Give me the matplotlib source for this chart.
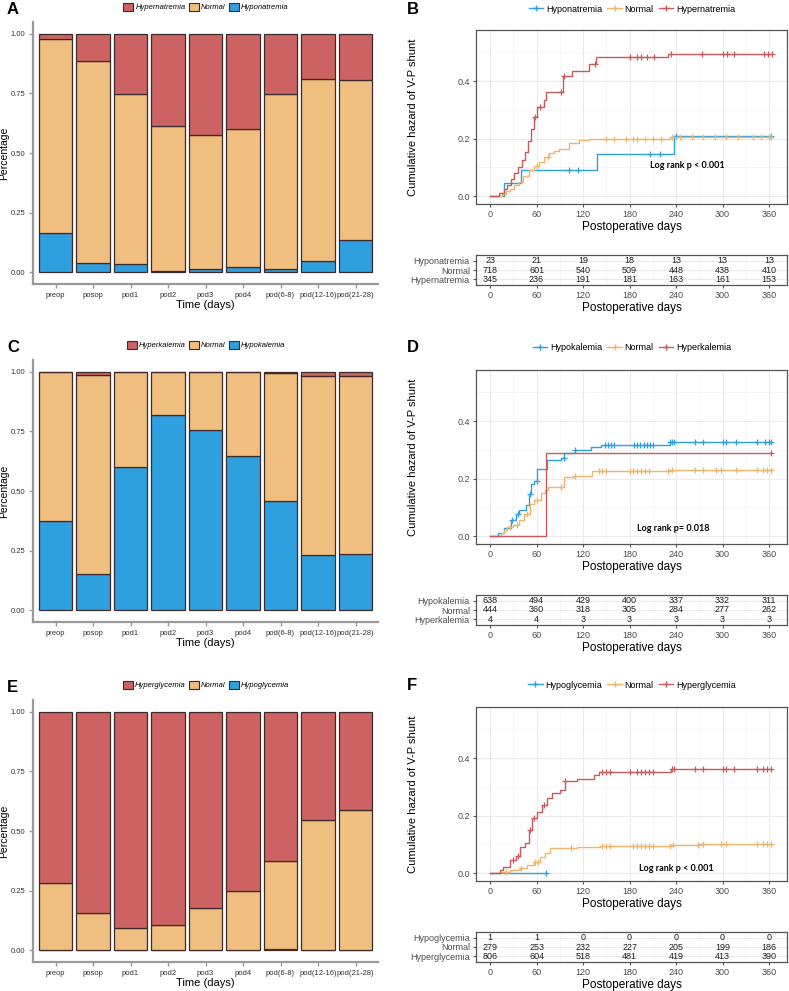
import numpy as np
import matplotlib
matplotlib.use("Agg")
import matplotlib.pyplot as plt
from matplotlib.patches import Patch
from matplotlib.lines import Line2D

plt.rcParams['font.family'] = ['Liberation Sans', 'DejaVu Sans']

# ---------------- bar chart data (fractions) ----------------
periods = ["preop", "posop", "pod1", "pod2", "pod3", "pod4",
           "pod(6-8)", "pod(12-16)", "pod(21-28)"]

na_hypo = [0.166, 0.038, 0.032, 0.005, 0.012, 0.020, 0.012, 0.048, 0.134]
na_normal = [0.812, 0.847, 0.714, 0.608, 0.563, 0.580, 0.734, 0.761, 0.671]
na_hyper = [0.022, 0.115, 0.254, 0.387, 0.425, 0.400, 0.254, 0.191, 0.195]

k_hypo = [0.374, 0.151, 0.600, 0.820, 0.757, 0.647, 0.458, 0.231, 0.235]
k_normal = [0.626, 0.835, 0.400, 0.180, 0.243, 0.353, 0.537, 0.752, 0.748]
k_hyper = [0.000, 0.014, 0.000, 0.000, 0.000, 0.000, 0.005, 0.017, 0.017]

glu_hypo = [0.000, 0.000, 0.000, 0.000, 0.000, 0.000, 0.004, 0.000, 0.000]
glu_normal = [0.282, 0.155, 0.092, 0.105, 0.177, 0.248, 0.370, 0.546, 0.590]
glu_hyper = [0.718, 0.845, 0.908, 0.895, 0.823, 0.752, 0.626, 0.454, 0.410]

# ---------------- cumulative hazard data ----------------
# (step times, hazard after step, censor times)
na_hypo_t = [0, 18, 40, 138, 238]
na_hypo_h = [0, 0.045, 0.09, 0.145, 0.21]
na_hypo_c = [102, 113, 206, 219, 240, 362]

na_norm_t = [0, 15, 20, 25, 31, 37, 43, 50, 56, 63, 70, 76, 83, 89, 102, 115, 128, 232]
na_norm_h = [0, 0.008, 0.016, 0.025, 0.038, 0.05, 0.07, 0.09, 0.105, 0.12, 0.135,
             0.15, 0.158, 0.165, 0.185, 0.195, 0.2, 0.205]
na_norm_c = [60, 75, 150, 160, 175, 185, 190, 200, 210, 220, 235, 245, 260, 275,
             290, 305, 320, 340, 350, 360, 363]

na_hyper_t = [0, 12, 18, 22, 27, 31, 36, 41, 45, 49, 53, 57, 61, 70, 72, 94, 106,
              128, 137, 230]
na_hyper_h = [0, 0.01, 0.025, 0.04, 0.06, 0.08, 0.1, 0.125, 0.155, 0.19, 0.235,
              0.276, 0.31, 0.334, 0.363, 0.417, 0.436, 0.46, 0.482, 0.494]
na_hyper_c = [58, 65, 91, 96, 136, 180, 190, 195, 202, 212, 234, 273, 300, 306,
              315, 353, 359, 364]

k_hypo_t = [0, 10, 18, 27, 33, 37, 46, 50, 53, 57, 61, 73, 92, 96, 109, 130, 143, 232]
k_hypo_h = [0, 0.01, 0.027, 0.055, 0.078, 0.09, 0.107, 0.148, 0.182, 0.193, 0.233,
            0.265, 0.273, 0.29, 0.299, 0.31, 0.317, 0.328]
k_hypo_c = [28, 36, 52, 60, 95, 110, 148, 152, 156, 160, 186, 190, 194, 198, 202,
            206, 210, 232, 235, 238, 265, 275, 300, 305, 318, 345, 355, 360, 363]

k_norm_t = [0, 14, 18, 22, 30, 37, 44, 51, 56, 66, 71, 75, 96, 109, 132, 232]
k_norm_h = [0, 0.01, 0.02, 0.03, 0.04, 0.055, 0.078, 0.11, 0.125, 0.15, 0.16, 0.172,
            0.205, 0.21, 0.225, 0.23]
k_norm_c = [25, 35, 48, 60, 92, 110, 140, 145, 150, 180, 185, 190, 195, 200, 205,
            230, 235, 265, 275, 292, 298, 318, 345, 352, 358, 363]

k_hyper_t = [0, 72]
k_hyper_h = [0, 0.288]
k_hyper_c = [363]

glu_hypo_t = [0]
glu_hypo_h = [0]
glu_hypo_c = [72]

glu_norm_t = [0, 13, 26, 39, 47, 56, 65, 71, 77, 112, 142, 233, 270]
glu_norm_h = [0, 0.003, 0.012, 0.017, 0.028, 0.04, 0.057, 0.07, 0.087, 0.091,
              0.094, 0.097, 0.1]
glu_norm_c = [20, 40, 58, 62, 105, 145, 150, 155, 185, 190, 195, 200, 205, 210,
              232, 236, 268, 275, 298, 305, 345, 352, 358, 363]

glu_hyper_t = [0, 13, 17, 26, 33, 39, 45, 50, 54, 61, 67, 74, 80, 90, 97, 112, 134,
               140, 233]
glu_hyper_h = [0, 0.01, 0.02, 0.044, 0.058, 0.091, 0.103, 0.149, 0.19, 0.213, 0.238,
               0.26, 0.277, 0.289, 0.32, 0.328, 0.342, 0.353, 0.362]
glu_hyper_c = [30, 36, 52, 57, 70, 97, 145, 150, 155, 180, 190, 195, 200, 205, 210,
               235, 238, 265, 275, 300, 305, 315, 345, 352, 358, 363]

# ---------------- numbers at risk ----------------
risk_times = [0, 60, 120, 180, 240, 300, 360]
na_risk = {"Hyponatremia": [23, 21, 19, 18, 13, 13, 13],
           "Normal": [718, 601, 540, 509, 448, 438, 410],
           "Hypernatremia": [345, 236, 191, 181, 163, 161, 153]}
k_risk = {"Hypokalemia": [638, 494, 429, 400, 337, 332, 311],
          "Normal": [444, 360, 318, 305, 284, 277, 262],
          "Hyperkalemia": [4, 4, 3, 3, 3, 3, 3]}
glu_risk = {"Hypoglycemia": [1, 1, 0, 0, 0, 0, 0],
            "Normal": [279, 253, 232, 227, 205, 199, 186],
            "Hyperglycemia": [806, 604, 518, 481, 419, 413, 390]}

RED = "#CD6262"
ORANGE = "#F0BE7E"
BLUE = "#2FA0DF"
L_RED = "#C95A5E"
L_ORANGE = "#EFB56C"
L_BLUE = "#2E9FDF"
EDGE = "#3b2b2b"
GRAYTXT = "#4d4d4d"

W, H = 789, 991
fig = plt.figure(figsize=(W / 100, H / 100), dpi=100)


def px_axes(l, t, r, b):
    return fig.add_axes([l / W, 1 - b / H, (r - l) / W, (b - t) / H])


def bar_panel(top, hypo, normal, hyper, names, letter, leg_y):
    ax = px_axes(33, top, 378, top + 262)
    x = np.arange(1, len(periods) + 1)
    hypo = np.array(hypo)
    normal = np.array(normal)
    hyper = np.array(hyper)
    kw = dict(width=0.9, edgecolor=EDGE, linewidth=0.9)
    ax.bar(x, hypo, color=BLUE, **kw)
    ax.bar(x, normal, bottom=hypo, color=ORANGE, **kw)
    ax.bar(x, hyper, bottom=hypo + normal, color=RED, **kw)
    ax.set_xlim(0.4, 9.6)
    ax.set_ylim(-0.05, 1.05)
    ax.set_xticks(x)
    ax.set_xticklabels(periods, fontsize=5.5, color="#333333")
    ax.set_yticks([0, 0.25, 0.5, 0.75, 1.0])
    ax.set_yticklabels(["0.00", "0.25", "0.50", "0.75", "1.00"], fontsize=5.5,
                       color="#333333")
    for s in ["top", "right"]:
        ax.spines[s].set_visible(False)
    for s in ["left", "bottom"]:
        ax.spines[s].set_color("#9a9a9a")
        ax.spines[s].set_linewidth(1.6)
    ax.tick_params(colors="#9a9a9a", length=3, width=1, labelcolor="#333333", pad=2.5)
    ax.set_xlabel("Time (days)", fontsize=8, labelpad=1)
    ax.set_ylabel("Percentage", fontsize=7.5, labelpad=1)
    handles = [Patch(facecolor=c, edgecolor=EDGE, linewidth=0.8) for c in (RED, ORANGE, BLUE)]
    fig.legend(handles, names, loc="center", bbox_to_anchor=(206 / W, 1 - leg_y / H),
               ncol=3, frameon=False, prop={"size": 5.5, "style": "italic"},
               handlelength=1.3, handleheight=1.3, handletextpad=0.3,
               columnspacing=0.4)
    fig.text(7 / W, 1 - (leg_y + 2) / H, letter, fontsize=12, fontweight="bold",
             ha="left", va="center")


def km_panel(y0, curves, names, risk, pval, pxy, letter, leg_y):
    ax = px_axes(476, y0 - 166, 787, y0 + 8)
    cols = [L_BLUE, L_ORANGE, L_RED]
    for (t, h, c), col in zip(curves, cols):
        t = np.array(t, dtype=float)
        h = np.array(h, dtype=float)
        tend = max(max(c), t[-1])
        te = np.append(t, tend)
        he = np.append(h, h[-1])
        ax.step(te, he, where="post", color=col, lw=1.0)
        c = np.array(c, dtype=float)
        idx = np.searchsorted(t, c, side="right") - 1
        ax.plot(c, h[idx], "+", color=col, ms=5, mew=0.9, ls="none")
    ax.set_xlim(-18.25, 383.25)
    ax.set_ylim(-0.0275, 0.5775)
    ax.set_xticks(np.arange(0, 361, 60))
    ax.set_xticks(np.arange(30, 361, 60), minor=True)
    ax.set_yticks([0, 0.2, 0.4])
    ax.set_yticks([0.1, 0.3, 0.5], minor=True)
    ax.set_yticklabels(["0.0", "0.2", "0.4"])
    ax.grid(which="major", color="#ebebeb", lw=0.8)
    ax.grid(which="minor", color="#f3f3f3", lw=0.5)
    ax.set_axisbelow(True)
    ax.tick_params(which="major", length=2.5, color="#555555", labelsize=6.5,
                   labelcolor=GRAYTXT, pad=2)
    ax.tick_params(which="minor", length=0)
    for s in ax.spines.values():
        s.set_color("#555555")
        s.set_linewidth(0.9)
    ax.set_xlabel("Postoperative days", fontsize=8.5, labelpad=1)
    ax.set_ylabel("Cumulative hazard of V-P shunt", fontsize=8, labelpad=28)
    ax.text(pxy[0], pxy[1], pval, fontsize=6.5, fontweight="bold",
            family=["Lato", "DejaVu Sans"], ha="center", va="center")
    handles = [Line2D([], [], color=c, marker="+", ms=5, lw=1) for c in cols]
    fig.legend(handles, names, loc="center", bbox_to_anchor=(632 / W, 1 - leg_y / H),
               ncol=3, frameon=False, fontsize=6.5, handlelength=1.6,
               handletextpad=0.3, columnspacing=0.6)
    fig.text(407 / W, 1 - leg_y / H, letter, fontsize=12, fontweight="bold",
             ha="left", va="center")

    # risk table
    tb = px_axes(476, y0 + 59, 787, y0 + 89)
    labels = list(risk.keys())
    for i, lab in enumerate(labels):
        row = 3 - i
        for tt, n in zip(risk_times, risk[lab]):
            tb.text(tt, row, str(n), fontsize=6.5, ha="center", va="center",
                    color="#222222")
    tb.set_xlim(-18.25, 383.25)
    tb.set_ylim(0.4, 3.6)
    tb.set_yticks([3, 2, 1])
    tb.set_yticklabels(labels)
    tb.set_xticks(np.arange(0, 361, 60))
    tb.set_xticks(np.arange(30, 361, 60), minor=True)
    tb.grid(which="major", color="#ebebeb", lw=0.8)
    tb.grid(which="minor", axis="x", color="#f3f3f3", lw=0.5)
    tb.set_axisbelow(True)
    tb.tick_params(which="major", length=2.5, color="#555555", labelsize=6.5,
                   labelcolor=GRAYTXT, pad=2)
    tb.tick_params(which="minor", length=0)
    for s in tb.spines.values():
        s.set_color("#555555")
        s.set_linewidth(0.9)
    tb.set_xlabel("Postoperative days", fontsize=8.5, labelpad=1)


# ---- left column: stacked bars ----
bar_panel(22, na_hypo, na_normal, na_hyper,
          ["Hypernatremia", "Normal", "Hyponatremia"], "A", 7)
bar_panel(360, k_hypo, k_normal, k_hyper,
          ["Hyperkalemia", "Normal", "Hypokalemia"], "C", 345)
bar_panel(700, glu_hypo, glu_normal, glu_hyper,
          ["Hyperglycemia", "Normal", "Hypoglycemia"], "E", 685)

# ---- right column: cumulative hazard ----
km_panel(196,
         [(na_hypo_t, na_hypo_h, na_hypo_c), (na_norm_t, na_norm_h, na_norm_c),
          (na_hyper_t, na_hyper_h, na_hyper_c)],
         ["Hyponatremia", "Normal", "Hypernatremia"], na_risk,
         "Log rank p < 0.001", (254, 0.108), "B", 9)
km_panel(536,
         [(k_hypo_t, k_hypo_h, k_hypo_c), (k_norm_t, k_norm_h, k_norm_c),
          (k_hyper_t, k_hyper_h, k_hyper_c)],
         ["Hypokalemia", "Normal", "Hyperkalemia"], k_risk,
         "Log rank p= 0.018", (236, 0.025), "D", 348)
km_panel(873,
         [(glu_hypo_t, glu_hypo_h, glu_hypo_c), (glu_norm_t, glu_norm_h, glu_norm_c),
          (glu_hyper_t, glu_hyper_h, glu_hyper_c)],
         ["Hypoglycemia", "Normal", "Hyperglycemia"], glu_risk,
         "Log rank p < 0.001", (240, 0.015), "F", 685)

fig.savefig("out.png", dpi=100)
